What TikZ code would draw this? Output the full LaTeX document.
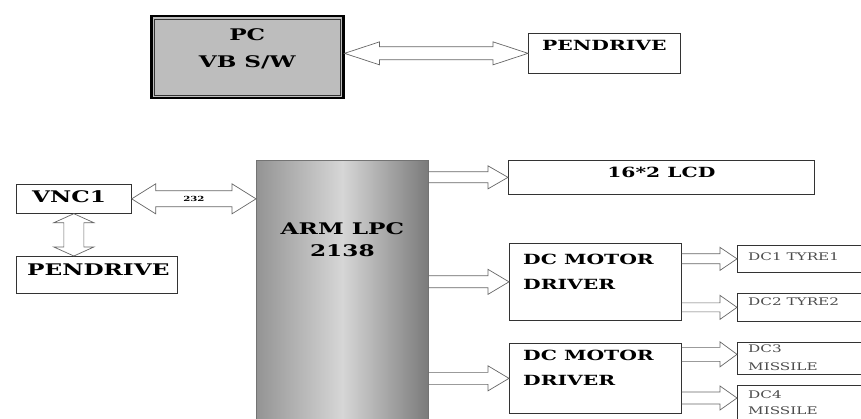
\documentclass[tikz,border=0pt]{standalone}
\usepackage{fontspec}
\setmainfont{DejaVu Serif}[FakeStretch=1.45]
\usetikzlibrary{positioning,calc}

% hollow block arrows: from, to, shaft half width, head half width, head length
\newcommand{\rarrow}[5]{%
  \draw[blockarrow] ($(#1)+(0,#3)$) -- ($(#2)+(-#5,#3)$) -- ($(#2)+(-#5,#4)$) -- (#2)
    -- ($(#2)+(-#5,-#4)$) -- ($(#2)+(-#5,-#3)$) -- ($(#1)+(0,-#3)$);}
\newcommand{\lrarrow}[5]{%
  \draw[blockarrow] (#1) -- ($(#1)+(#5,#4)$) -- ($(#1)+(#5,#3)$) -- ($(#2)+(-#5,#3)$)
    -- ($(#2)+(-#5,#4)$) -- (#2) -- ($(#2)+(-#5,-#4)$) -- ($(#2)+(-#5,-#3)$)
    -- ($(#1)+(#5,-#3)$) -- ($(#1)+(#5,-#4)$) -- cycle;}
\newcommand{\udarrow}[5]{%
  \draw[blockarrow] (#1) -- ($(#1)+(#4,#5)$) -- ($(#1)+(#3,#5)$) -- ($(#2)+(#3,-#5)$)
    -- ($(#2)+(#4,-#5)$) -- (#2) -- ($(#2)+(-#4,-#5)$) -- ($(#2)+(-#3,-#5)$)
    -- ($(#1)+(-#3,#5)$) -- ($(#1)+(-#4,#5)$) -- cycle;}

\begin{document}
\begin{tikzpicture}[x=1pt, y=-1pt,
    box/.style={draw=black!80, line width=0.7pt, anchor=north west, inner sep=0pt},
    pcbox/.style={box, fill=black!26, line width=2.5pt, draw=black},
    armbox/.style={box, draw=black!55, left color=black!42, right color=black!52, middle color=black!16},
    txt/.style={inner sep=0pt, anchor=north west, align=left},
    big/.style={font=\fontsize{16}{27}\selectfont\bfseries},
    mid/.style={font=\fontsize{14}{25}\selectfont\bfseries},
    small/.style={font=\fontsize{10.5}{18}\selectfont, text=black!70},
    tiny/.style={font=\fontsize{7}{8}\selectfont\bfseries, inner sep=0pt},
    blockarrow/.style={draw=black!60, line width=0.7pt},
  ]
    \clip (0,0) rectangle (861,419);

    % top row
    \node[pcbox, minimum width=192pt, minimum height=82pt] (pc) at (150,15) {};
    \draw[black!80, line width=0.6pt] ([shift={(4,4)}]pc.north west) rectangle ([shift={(-4,-4)}]pc.south east);
    \node[big, align=center] (pctxt) at ([yshift=8pt]pc.center) {PC\\VB S/W};
    \node[box, minimum width=152pt, minimum height=40pt] (pdtop) at (528,33) {};
    \node[txt, mid, below right=7pt and 14pt of pdtop.north west] (pdtoptxt) {PENDRIVE};

    % left side
    \node[box, minimum width=115pt, minimum height=29pt] (vnc) at (16,184) {};
    \node[txt, big, below right=6pt and 16pt of vnc.north west] (vnctxt) {VNC1};
    \node[box, minimum width=161pt, minimum height=37pt] (pdleft) at (16,256) {};
    \node[txt, big, below right=8pt and 11pt of pdleft.north west] (pdlefttxt) {PENDRIVE};

    % controller
    \node[armbox, minimum width=172pt, minimum height=280pt] (arm) at (256,160) {};
    \node[txt, big, align=center, below=62pt of arm.north] (armtxt) {ARM LPC\\[-5pt]2138};

    % outputs
    \node[box, minimum width=306pt, minimum height=34pt] (lcd) at (508,160) {};
    \node[mid] (lcdtxt) at ([yshift=5pt]lcd.center) {16*2 LCD};
    \node[box, minimum width=172pt, minimum height=77pt] (drv1) at (509,243) {};
    \node[txt, mid, below right=11pt and 14pt of drv1.north west] (drv1txt) {DC MOTOR\\DRIVER};
    \node[box, minimum width=172pt, minimum height=70pt] (drv2) at (509,343) {};
    \node[txt, mid, below right=7pt and 14pt of drv2.north west] (drv2txt) {DC MOTOR\\DRIVER};

    \node[box, minimum width=150pt, minimum height=27pt] (dc1) at (737,245) {};
    \node[txt, small, below right=8pt and 11pt of dc1.north west] (dc1txt) {DC1 TYRE1};
    \node[box, minimum width=150pt, minimum height=28pt] (dc2) at (737,293) {};
    \node[txt, small, below right=5pt and 11pt of dc2.north west] (dc2txt) {DC2 TYRE2};
    \node[box, minimum width=150pt, minimum height=32pt] (dc3) at (737,342) {};
    \node[txt, small, below right=3pt and 11pt of dc3.north west] (dc3txt) {DC3\\MISSILE};
    \node[box, minimum width=150pt, minimum height=45pt] (dc4) at (737,385) {};
    \node[txt, small, below right=6pt and 11pt of dc4.north west] (dc4txt) {DC4\\[-2.5pt]MISSILE};
    \coordinate (dc3in) at ([yshift=4pt]dc3.west);
    \coordinate (dc4in) at ([yshift=-13pt]dc4.north west);

    % links
    \lrarrow{pc.east |- pdtop.west}{pdtop.west}{6.5}{11.5}{35}
    \lrarrow{vnc.east}{arm.west |- vnc.east}{8}{15}{24}
    \node[tiny] (rs) at ($(vnc.east)!0.5!(arm.west |- vnc.east)$) {232};
    \udarrow{vnc.south}{vnc.south |- pdleft.north}{10}{20}{9}

    \rarrow{arm.east |- lcd.west}{lcd.west}{5.5}{11.5}{20}
    \rarrow{arm.east |- drv1.west}{drv1.west}{6}{12.5}{21}
    \rarrow{arm.east |- drv2.west}{drv2.west}{6}{12.5}{21}
    \rarrow{drv1.east |- dc1.west}{dc1.west}{5}{11.5}{17}
    \rarrow{drv1.east |- dc2.west}{dc2.west}{4.5}{12}{17}
    \rarrow{drv2.east |- dc3in}{dc3in}{7}{12.5}{17}
    \rarrow{drv2.east |- dc4in}{dc4in}{6}{12}{17}
  \end{tikzpicture}
\end{document}
